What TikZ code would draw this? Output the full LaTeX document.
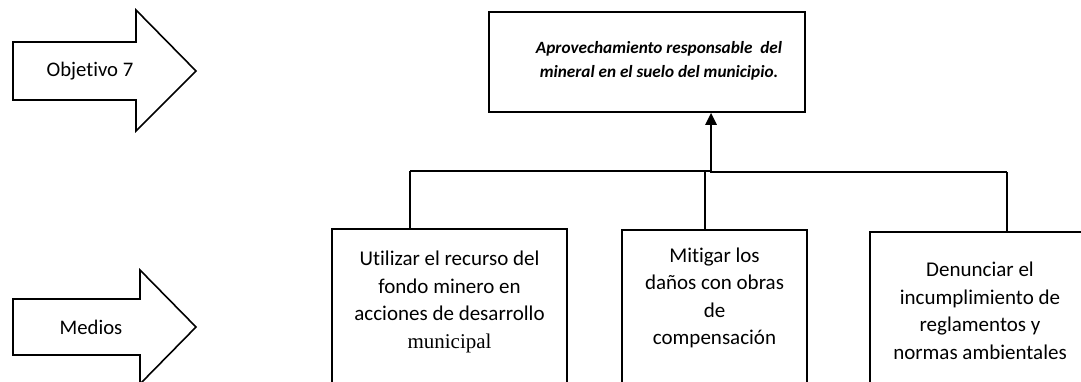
\documentclass[tikz,border=0pt]{standalone}
\usepackage{fontspec}
\setmainfont{Carlito}[Ligatures=NoCommon]
\newfontfamily\timesf{Liberation Serif}
\usetikzlibrary{arrows.meta}
\begin{document}
\begin{tikzpicture}[x=1pt,y=-1pt,
  box/.style={draw,line width=1.6pt,inner sep=0pt},
  bigarrow/.style={draw,line width=1.6pt,line join=miter},
  lbl/.style={font=\fontsize{20.7}{24}\selectfont},
  btext/.style={align=center,font=\fontsize{21}{27.5}\selectfont,inner sep=0pt},
  wire/.style={line width=1.6pt}]
\useasboundingbox (0,0) rectangle (1081,381);
\clip (0,0) rectangle (1081,381);
% side arrows
\draw[bigarrow] (13,42) -- (136,42) -- (136,10) -- (196,71) -- (136,131) -- (136,100) -- (13,100) -- cycle;
\node[lbl] (obj) at (90,71) {Objetivo 7};
\draw[bigarrow] (13,299) -- (140,299) -- (140,270) -- (196,327) -- (140,384) -- (140,355) -- (13,355) -- cycle;
\node[lbl] (med) at (91,327) {Medios};
% top box
\node[box,minimum width=316pt,minimum height=100pt] (top) at (647,62) {};
\node[align=center,inner sep=0pt,
  font=\fontsize{17.2}{23.5}\selectfont\bfseries\itshape] (toptext) at (659,61)
  {Aprovechamiento responsable\ \ del\\mineral en el suelo del municipio.};
% bottom boxes
\node[box,anchor=north,minimum width=235pt,minimum height=200pt] (b1) at (449.5,228) {};
\node[box,anchor=north,minimum width=185pt,minimum height=200pt] (b2) at (714.5,229) {};
\node[box,anchor=north,minimum width=220pt,minimum height=200pt] (b3) at (980,231) {};
\node[btext] (t1) at (449.5,302) {Utilizar el recurso del\\fondo minero en\\acciones de desarrollo\\{\timesf municipal}};
\node[btext] (t2) at (714.5,298) {Mitigar los\\daños con obras\\de\\compensación};
\node[btext] (t3) at (980,311) {Denunciar el\\incumplimiento de\\reglamentos y\\normas ambientales};
% connectors
\coordinate (bl) at (410,171);
\coordinate (bm) at (705,171);
\coordinate (j) at (711,171);
\coordinate (br) at (1007,172);
\draw[wire] (bl) -- (j) -- (j |- br) -- (br);
\draw[wire] (bl) -- (bl |- b1.north);
\draw[wire] (bm) -- (bm |- b2.north);
\draw[wire] (br) -- (br |- b3.north);
\draw[line width=2.6pt,-{Triangle[length=12pt,width=11pt]}] (j) -- (j |- top.south);
\end{tikzpicture}
\end{document}
